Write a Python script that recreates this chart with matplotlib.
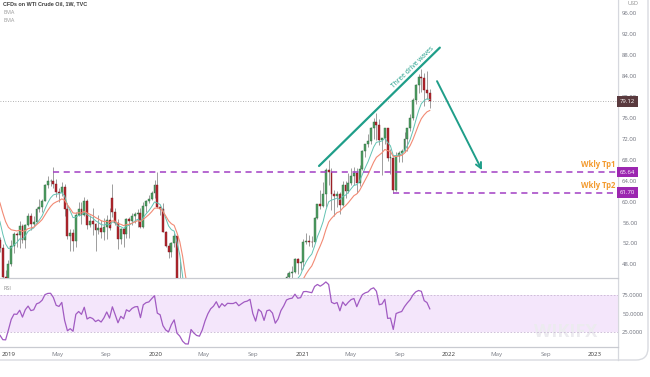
import matplotlib
matplotlib.use('Agg')
import matplotlib.pyplot as plt
import matplotlib.dates as mdates
import matplotlib.transforms as mtransforms
from matplotlib.patches import FancyBboxPatch
from matplotlib.ticker import FormatStrFormatter
import numpy as np
import pandas as pd

plt.rcParams['font.family'] = ['Open Sans', 'DejaVu Sans']

# ---- weekly OHLC (CFD on WTI), first bar = week of 2018-07-30 ----
first_week = '2018-07-30'
opens = [68.8, 68.5, 67.6, 65.9, 68.7, 69.8, 67.8, 69.0, 70.8, 73.3, 74.3, 71.3, 69.1, 67.6, 63.1, 60.2, 56.5, 50.4, 50.9, 52.6, 51.2, 45.6,
         # 2019
         45.3, 48.0, 51.6, 53.8, 53.7, 55.3, 52.7, 55.6, 57.3, 55.8, 56.1, 58.5, 59.0, 60.1, 63.1, 63.9, 64.0, 63.3, 61.9, 61.7, 62.8, 58.6,
         53.5, 54.0, 52.5, 57.4, 58.5, 57.5, 60.2, 55.6, 56.2, 55.7, 54.5, 54.9, 54.2, 55.1, 56.5, 60.7, 58.1, 55.9, 52.8, 54.7, 53.8, 56.7,
         56.2, 57.2, 57.7, 57.8, 55.2, 59.2, 60.1, 60.4,
         # 2020
         61.7, 63.1, 59.0, 58.5, 54.2, 51.6, 50.3, 52.1, 53.4, 44.8, 41.3, 31.7, 22.4, 21.5, 28.3, 22.8, 18.3, 16.9, 19.8, 24.7, 29.4, 33.3,
         35.5, 39.6, 36.3, 39.8, 38.5, 40.7, 40.6, 40.6, 41.3, 40.3, 41.2, 42.0, 42.3, 43.0, 39.8, 37.3, 41.1, 40.3, 37.1, 40.6, 40.9, 39.9,
         35.8, 37.1, 40.1, 42.2, 45.5, 46.3, 46.6, 49.1, 48.2,
         # 2021
         48.5, 52.2, 52.4, 52.3, 52.2, 56.9, 59.5, 59.2, 61.5, 66.1, 65.6, 61.4, 61.0, 61.5, 59.3, 63.1, 62.1, 63.6, 64.9, 65.4, 63.6, 66.3,
         69.6, 70.9, 71.6, 74.0, 75.2, 74.6, 71.8, 72.1, 74.0, 68.3, 68.4, 62.3, 68.7, 69.3, 69.7, 72.0, 74.0, 75.9, 79.4, 82.3, 83.8, 83.6,
         81.3, 80.8]
highs = [69.9, 69.5, 67.9, 68.9, 70.4, 71.4, 71.3, 71.4, 73.4, 76.9, 75.9, 72.4, 69.9, 67.8, 64.0, 60.9, 57.4, 52.3, 54.6, 53.3, 51.9, 47.0,
         48.8, 52.7, 54.2, 54.2, 56.2, 55.8, 55.8, 57.8, 57.9, 57.3, 58.9, 60.4, 60.4, 63.3, 64.8, 64.4, 66.6, 64.3, 62.6, 63.7, 63.4, 59.8,
         54.8, 54.8, 58.0, 59.9, 60.0, 60.9, 60.4, 57.4, 58.8, 55.9, 57.5, 56.4, 56.9, 57.4, 58.8, 63.4, 58.8, 56.6, 54.9, 54.9, 56.9, 57.0,
         57.9, 58.0, 58.6, 58.8, 59.9, 60.3, 61.2, 62.0,
         64.1, 65.7, 59.2, 59.7, 54.4, 52.0, 52.2, 54.0, 53.5, 48.7, 41.3, 33.3, 25.2, 29.1, 28.4, 24.6, 20.5, 20.5, 26.7, 29.6, 34.7, 35.8,
         39.6, 40.4, 40.5, 41.6, 41.0, 41.1, 41.7, 42.5, 42.0, 43.5, 43.0, 43.5, 43.8, 43.6, 39.8, 41.4, 41.2, 41.0, 41.6, 41.6, 41.7, 39.9,
         39.5, 43.0, 42.5, 46.3, 46.7, 47.7, 49.3, 49.3, 48.6,
         52.8, 53.9, 53.6, 53.4, 57.0, 59.5, 62.3, 63.8, 66.4, 67.9, 66.4, 62.3, 62.1, 61.8, 64.0, 63.9, 65.5, 66.5, 66.6, 66.5, 67.0, 69.8,
         70.9, 72.9, 74.2, 76.0, 77.0, 75.7, 72.1, 74.0, 74.0, 70.0, 68.6, 69.4, 69.6, 70.1, 73.2, 74.0, 76.7, 79.8, 82.5, 84.4, 85.4, 84.6,
         85.0, 81.5]
lows = [67.0, 66.0, 64.4, 65.6, 68.4, 67.0, 67.1, 68.1, 70.2, 73.1, 70.8, 68.5, 65.7, 62.6, 59.6, 54.8, 49.4, 49.4, 50.1, 50.3, 45.4, 42.4,
        44.4, 47.6, 50.1, 51.3, 51.2, 52.1, 51.2, 55.4, 54.5, 55.3, 55.9, 58.0, 58.0, 60.1, 62.6, 62.9, 62.6, 60.8, 60.0, 61.0, 57.3, 52.8,
        50.6, 50.6, 51.3, 57.2, 55.8, 57.3, 54.7, 55.1, 53.6, 50.5, 53.8, 53.1, 52.7, 52.8, 54.5, 57.1, 55.6, 50.9, 51.8, 51.3, 53.0, 53.0,
        55.5, 56.0, 55.1, 55.0, 55.0, 58.0, 59.8, 60.3,
        60.6, 58.7, 57.4, 54.1, 51.3, 49.3, 49.4, 51.3, 44.0, 41.1, 27.3, 20.1, 20.5, 19.3, 22.3, 18.0, 10.0, 10.1, 19.2, 23.5, 29.0, 31.5,
        35.2, 34.4, 35.5, 37.1, 38.0, 39.0, 39.3, 40.2, 38.7, 40.1, 41.0, 41.5, 42.2, 39.2, 36.1, 36.6, 38.6, 36.6, 37.0, 39.2, 39.0, 34.9,
        33.6, 36.8, 40.0, 42.0, 44.0, 45.1, 46.3, 46.2, 47.0,
        47.2, 51.8, 51.6, 51.3, 52.1, 56.6, 58.6, 58.9, 59.0, 63.1, 58.3, 57.3, 58.9, 57.6, 59.1, 60.6, 61.6, 63.1, 63.1, 61.6, 63.0, 66.1,
        68.5, 70.5, 71.0, 72.0, 71.7, 70.8, 65.0, 71.0, 67.8, 65.2, 61.7, 62.1, 67.6, 67.6, 69.5, 69.6, 73.5, 75.6, 78.6, 80.8, 81.0, 78.3,
        79.5, 77.8]
closes = [68.5, 67.6, 65.9, 68.7, 69.8, 67.8, 69.0, 70.8, 73.3, 74.3, 71.3, 69.1, 67.6, 63.1, 60.2, 56.5, 50.4, 50.9, 52.6, 51.2, 45.6, 45.3,
          48.0, 51.6, 53.8, 53.7, 55.3, 52.7, 55.6, 57.3, 55.8, 56.1, 58.5, 59.0, 60.1, 63.1, 63.9, 64.0, 63.3, 61.9, 61.7, 62.8, 58.6, 53.5,
          54.0, 52.5, 57.4, 58.5, 57.5, 60.2, 55.6, 56.2, 55.7, 54.5, 54.9, 54.2, 55.1, 56.5, 54.9, 58.1, 55.9, 52.8, 54.7, 53.8, 56.7, 56.2,
          57.2, 57.7, 57.8, 55.2, 59.2, 60.1, 60.4, 61.7,
          63.1, 59.0, 58.5, 54.2, 51.6, 50.3, 52.1, 53.4, 44.8, 41.3, 31.7, 22.4, 21.5, 28.3, 22.8, 18.3, 16.9, 19.8, 24.7, 29.4, 33.3, 35.5,
          39.6, 36.3, 39.8, 38.5, 40.7, 40.6, 40.6, 41.3, 40.3, 41.2, 42.0, 42.3, 43.0, 39.8, 37.3, 41.1, 40.3, 37.1, 40.6, 40.9, 39.9, 35.8,
          37.1, 40.1, 42.2, 45.5, 46.3, 46.6, 49.1, 48.2, 48.5,
          52.2, 52.4, 52.3, 52.2, 56.9, 59.5, 59.2, 61.5, 66.1, 65.6, 61.4, 61.0, 61.5, 59.3, 63.1, 62.1, 63.6, 64.9, 65.4, 63.6, 66.3, 69.6,
          70.9, 71.6, 74.0, 75.2, 74.6, 71.8, 72.1, 74.0, 68.3, 68.4, 62.3, 68.7, 69.3, 69.7, 72.0, 74.0, 75.9, 79.4, 82.3, 83.8, 83.6, 81.3,
          80.8, 79.12]

# ---- drawings on the chart ----
tp1, tp2 = 65.64, 61.70
tp1_from, tp2_from = '2019-04-22', '2021-08-16'
trend_dates = ['2021-02-12', '2021-12-10']
trend_prices = [66.8, 89.4]
trend_label_at = ('2021-10-04', 85.6)
arrow_dates = ['2021-12-03', '2022-03-25']
arrow_prices = [83.0, 66.0]
ema_fast_len, ema_slow_len, rsi_len = 8, 14, 7

price_ticks = [48, 52, 56, 60, 64, 68, 72, 76, 80, 84, 88, 92, 96]
rsi_ticks = [25, 50, 75]
date_ticks = ['2019-01-01', '2019-05-01', '2019-09-01', '2020-01-01', '2020-05-01', '2020-09-01',
              '2021-01-01', '2021-05-01', '2021-09-01', '2022-01-01', '2022-05-01', '2022-09-01', '2023-01-01']
date_labels = ['2019', 'May', 'Sep', '2020', 'May', 'Sep', '2021', 'May', 'Sep', '2022', 'May', 'Sep', '2023']

df = pd.DataFrame({'open': opens, 'high': highs, 'low': lows, 'close': closes},
                  index=pd.date_range(first_week, periods=len(closes), freq='W-MON'))

# indicators
ema_fast = df.close.ewm(span=ema_fast_len, adjust=False).mean()
ema_slow = df.close.ewm(span=ema_slow_len, adjust=False).mean()
delta = df.close.diff().fillna(0)
up_mv = delta.clip(lower=0).ewm(alpha=1 / rsi_len, adjust=False).mean()
dn_mv = (-delta.clip(upper=0)).ewm(alpha=1 / rsi_len, adjust=False).mean()
rsi = 100 - 100 / (1 + up_mv / dn_mv)

x = mdates.date2num(df.index.to_pydatetime())
o, h, l, c = df.open.values, df.high.values, df.low.values, df.close.values
up = c >= o

W, H = 650, 377
fig = plt.figure(figsize=(6.5, 3.77), dpi=100)

# background frame (pixel coords)
bg = fig.add_axes([0, 0, 1, 1], zorder=0)
bg.set_xlim(0, W)
bg.set_ylim(H, 0)
bg.axis('off')
bg.add_patch(FancyBboxPatch((-20, -20), 668, 380, boxstyle='round,pad=0,rounding_size=12',
                            fc='white', ec='#d9dbe0', lw=1.0))
bg.plot([618, 618], [0, 360], color='#d6d8de', lw=0.9)

xl = (mdates.datestr2num('2018-12-10'), mdates.datestr2num('2023-02-27'))

# ---------- price panel ----------
ax = fig.add_axes([0, 1 - 278 / H, 618 / W, 278 / H], zorder=1)
ax.set_xlim(*xl)
ax.set_ylim(45.4, 98.5)

ax.vlines(x, l, h, color='#8e8e8e', lw=0.6, zorder=2)
ax.bar(x[up], np.maximum(c - o, 0.12)[up], bottom=o[up], width=4.8, color='#4f9e63',
       edgecolor='#2f6b40', lw=0.3, zorder=3)
ax.bar(x[~up], np.maximum(o - c, 0.12)[~up], bottom=c[~up], width=4.8, color='#b3262e',
       edgecolor='#7a181d', lw=0.3, zorder=3)
ax.plot(x, ema_fast, color='#62c3b3', lw=0.7, zorder=4)
ax.plot(x, ema_slow, color='#f28a74', lw=0.8, zorder=4)

ax.axhline(closes[-1], color='#9a9a9a', lw=0.6, ls=(0, (1, 2)), zorder=1)
purple = '#a23fc4'
ax.hlines(tp1, mdates.datestr2num(tp1_from), xl[1], color=purple, lw=1.1, ls=(0, (4, 3)), zorder=5)
ax.hlines(tp2, mdates.datestr2num(tp2_from), xl[1], color=purple, lw=1.1, ls=(0, (4, 3)), zorder=5)

teal = '#1f9e89'
tx = mdates.datestr2num(trend_dates)
ax.plot(tx, trend_prices, color=teal, lw=1.6, zorder=6, solid_capstyle='round')
p0 = ax.transData.transform((tx[0], trend_prices[0]))
p1 = ax.transData.transform((tx[1], trend_prices[1]))
ang = np.degrees(np.arctan2(p1[1] - p0[1], p1[0] - p0[0]))
ax.text(mdates.datestr2num(trend_label_at[0]), trend_label_at[1], 'Three drive waves', color=teal,
        fontsize=4.8, rotation=ang, rotation_mode='anchor', ha='center', va='center', zorder=6)
ax.annotate('', xy=(mdates.datestr2num(arrow_dates[1]), arrow_prices[1]),
            xytext=(mdates.datestr2num(arrow_dates[0]), arrow_prices[0]),
            arrowprops=dict(arrowstyle='->', color=teal, lw=1.4, mutation_scale=10,
                            shrinkA=0, shrinkB=0), zorder=6)

orange = '#f39a2e'
trans = mtransforms.blended_transform_factory(ax.transAxes, ax.transData)
for lvl, name in [(tp1, 'Wkly Tp1'), (tp2, 'Wkly Tp2')]:
    ax.annotate(name, xy=(0.995, lvl), xycoords=trans, xytext=(0, 5.2), textcoords='offset points',
                ha='right', va='center', color=orange, fontsize=5.6, fontweight='bold', zorder=7)

ax.yaxis.tick_right()
ax.set_yticks(price_ticks)
ax.yaxis.set_major_formatter(FormatStrFormatter('%.2f'))
ax.tick_params(axis='y', length=0, pad=3, labelsize=4.3, labelcolor='#6e717c')
ax.set_xticks([])
for s in ['left', 'top']:
    ax.spines[s].set_visible(False)
ax.spines['right'].set_color('#d6d8de')
ax.spines['bottom'].set_color('#c9cbd1')
ax.spines['bottom'].set_linewidth(0.9)

for lvl, txt, fc in [(closes[-1], f'{closes[-1]:.2f}', '#5a3a3e'), (tp1, f'{tp1:.2f}', '#9c27b0'),
                     (tp2, f'{tp2:.2f}', '#9c27b0')]:
    ax.text(1.003, lvl, txt, transform=trans, ha='left', va='center', fontsize=4.3, color='white',
            clip_on=False, zorder=8, bbox=dict(boxstyle='square,pad=0.45', fc=fc, ec='none'))

# ---------- RSI panel ----------
ar = fig.add_axes([0, 1 - 347 / H, 618 / W, 67 / H], zorder=1)
ar.set_xlim(*xl)
ar.set_ylim(4.7, 95.3)
ar.axhspan(25, 75, color='#f4e6fb', lw=0, zorder=0)
ar.axhline(75, color='#c7b6d3', lw=0.6, ls=(0, (2, 2)), zorder=1)
ar.axhline(25, color='#c7b6d3', lw=0.6, ls=(0, (2, 2)), zorder=1)
ar.text(0.915, 0.22, 'WIKIFX', transform=ar.transAxes, fontsize=13, fontweight='bold',
        color='#ecebef', ha='center', va='center', zorder=0.5)
ar.plot(x, rsi, color='#a15bc2', lw=0.9, zorder=2)

ar.yaxis.tick_right()
ar.set_yticks(rsi_ticks)
ar.yaxis.set_major_formatter(FormatStrFormatter('%.4f'))
ar.tick_params(axis='y', length=0, pad=3, labelsize=4.2, labelcolor='#6e717c')
ar.set_xticks(mdates.datestr2num(date_ticks))
ar.set_xticklabels(date_labels)
ar.tick_params(axis='x', length=0, pad=3.5, labelsize=4.4)
for t, lab in zip(ar.get_xticklabels(), date_labels):
    t.set_color('#3a3a3a' if lab.isdigit() else '#7a7d86')
for s in ['left', 'top']:
    ar.spines[s].set_visible(False)
ar.spines['right'].set_color('#d6d8de')
ar.spines['bottom'].set_color('#c9cbd1')
ar.spines['bottom'].set_linewidth(0.9)

# header texts
fig.text(3 / W, 1 - 4 / H, 'CFDs on WTI Crude Oil, 1W, TVC', fontsize=3.9, fontweight='bold',
         family=['Liberation Sans Narrow', 'Liberation Sans', 'DejaVu Sans'],
         color='#3b3b3b', va='center', ha='left')
fig.text(3 / W, 1 - 12.5 / H, 'EMA', fontsize=4.0, color='#9a9a9a', va='center', ha='left')
fig.text(3 / W, 1 - 21 / H, 'EMA', fontsize=4.0, color='#9a9a9a', va='center', ha='left')
fig.text(3 / W, 1 - 288 / H, 'RSI', fontsize=4.0, color='#8a8a8a', va='center', ha='left')
fig.text(633 / W, 1 - 3.5 / H, 'USD', fontsize=4.0, color='#8a8a8a', va='center', ha='center')

fig.savefig('out.png', dpi=100)
